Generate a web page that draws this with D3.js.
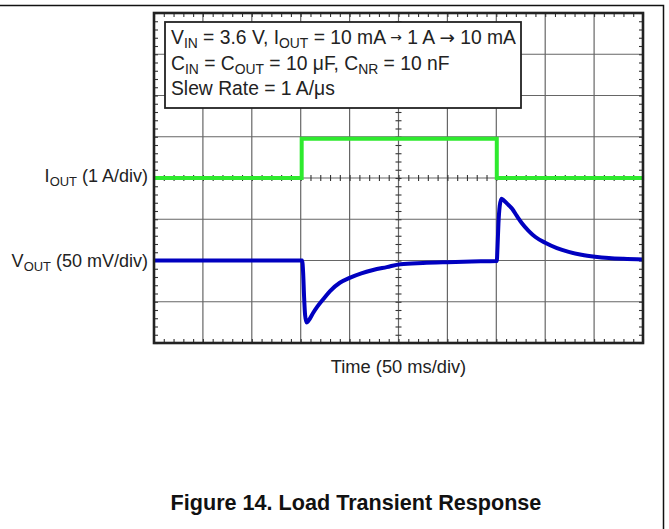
<!DOCTYPE html>
<html>
<head>
<meta charset="utf-8">
<script src="https://cdn.jsdelivr.net/npm/d3@7"></script>
<style>
  body { margin: 0; background: #fff; }
  text { font-family: "Liberation Sans", Arial, sans-serif; fill: #222; }
</style>
</head>
<body>
<script>
// step of the load current (time in ms, current in A)
const ioutTime = [0, 151, 151, 350.5, 350.5, 500];
const ioutAmps = [0, 0, 0.95, 0.95, 0, 0];

// output voltage deviation (time in ms, deviation in mV)
const voutTime = [0, 151.5, 152.5, 153.5, 154.5, 156, 158, 162.5, 167, 173, 180, 190, 200, 212, 224, 238, 252, 275, 300, 325,
                  350.5, 351.2, 352.2, 353.5, 355.3, 357.5, 361, 366, 371, 376, 383, 390, 400, 412, 424, 437, 451, 465, 480, 500];
const voutMv   = [0, 0, -15, -45, -66, -75, -73, -64, -56, -47, -37, -27, -21, -15.5, -11.5, -8, -4.5, -3, -2, -1.2,
                  -0.5, 15, 45, 66, 75, 73, 69, 63, 54, 45.5, 36, 28.5, 21.5, 15, 10.5, 7, 4.6, 3, 2, 1.2];

const msPerDiv = 50;
const ampsPerDiv = 1;
const mvPerDiv = 50;
const ioutZeroDiv = 4;   // div (from bottom) where I_OUT = 0
const voutZeroDiv = 2;   // div where V_OUT deviation = 0

const w = 669, h = 529;
const m = {top: 13, left: 154, right: 26, bottom: 186};
const plot_w = w - m.left - m.right;
const plot_h = h - m.top - m.bottom;

const svg = d3.select('body').append('svg')
    .attr('width', w)
    .attr('height', h);

// outer frame (top and right)
svg.append('path')
    .attr('d', `M0,5.5 H663.5 V${h}`)
    .attr('fill', 'none')
    .attr('stroke', '#111')
    .attr('stroke-width', 1.5);

const xDiv = d3.scaleLinear().domain([0, 10]).range([m.left, m.left + plot_w]);
const yDiv = d3.scaleLinear().domain([0, 8]).range([m.top + plot_h, m.top]);
const x = d3.scaleLinear().domain([0, 10 * msPerDiv]).range([m.left, m.left + plot_w]);

svg.append('rect')
    .attr('x', m.left).attr('y', m.top)
    .attr('width', plot_w).attr('height', plot_h)
    .attr('fill', '#fff');

// grid
const grid = svg.append('g').attr('stroke', '#666').attr('stroke-width', 1.2);
grid.selectAll('.vg').data(d3.range(1, 10)).enter().append('line')
    .attr('x1', d => xDiv(d)).attr('x2', d => xDiv(d))
    .attr('y1', yDiv(0)).attr('y2', yDiv(8));
grid.selectAll('.hg').data(d3.range(1, 8)).enter().append('line')
    .attr('x1', xDiv(0)).attr('x2', xDiv(10))
    .attr('y1', d => yDiv(d)).attr('y2', d => yDiv(d));

// minor ticks
const minorX = d3.range(0, 10.001, 0.2);
const minorY = d3.range(0, 8.001, 0.2);

function ticks(g) {
  g.select('.domain').remove();
  g.selectAll('line').attr('stroke', '#333').attr('stroke-width', 1.1);
}
svg.append('g').attr('transform', `translate(0,${m.top})`)
    .call(d3.axisBottom(xDiv).tickValues(minorX).tickSize(4).tickFormat('')).call(ticks);
svg.append('g').attr('transform', `translate(0,${m.top + plot_h})`)
    .call(d3.axisTop(xDiv).tickValues(minorX).tickSize(4).tickFormat('')).call(ticks);
svg.append('g').attr('transform', `translate(${m.left},0)`)
    .call(d3.axisRight(yDiv).tickValues(minorY).tickSize(4).tickFormat('')).call(ticks);
svg.append('g').attr('transform', `translate(${m.left + plot_w},0)`)
    .call(d3.axisLeft(yDiv).tickValues(minorY).tickSize(4).tickFormat('')).call(ticks);
// centre axes, ticks on both sides
svg.append('g').attr('transform', `translate(0,${yDiv(4)})`)
    .call(d3.axisBottom(xDiv).tickValues(minorX).tickSize(3).tickFormat('')).call(ticks);
svg.append('g').attr('transform', `translate(0,${yDiv(4)})`)
    .call(d3.axisTop(xDiv).tickValues(minorX).tickSize(3).tickFormat('')).call(ticks);
svg.append('g').attr('transform', `translate(${xDiv(5)},0)`)
    .call(d3.axisRight(yDiv).tickValues(minorY).tickSize(3).tickFormat('')).call(ticks);
svg.append('g').attr('transform', `translate(${xDiv(5)},0)`)
    .call(d3.axisLeft(yDiv).tickValues(minorY).tickSize(3).tickFormat('')).call(ticks);

// traces
const iLine = d3.line()
    .x(d => x(d[0]))
    .y(d => yDiv(ioutZeroDiv + d[1] / ampsPerDiv));
svg.append('path')
    .datum(d3.zip(ioutTime, ioutAmps))
    .attr('d', iLine)
    .attr('fill', 'none')
    .attr('stroke', '#2eea2e')
    .attr('stroke-width', 4);

const vLine = d3.line()
    .curve(d3.curveMonotoneX)
    .x(d => x(d[0]))
    .y(d => yDiv(voutZeroDiv + d[1] / mvPerDiv));
svg.append('path')
    .datum(d3.zip(voutTime, voutMv))
    .attr('d', vLine)
    .attr('fill', 'none')
    .attr('stroke', '#0000c0')
    .attr('stroke-width', 4)
    .attr('stroke-linejoin', 'round');

// plot border
svg.append('rect')
    .attr('x', m.left).attr('y', m.top)
    .attr('width', plot_w).attr('height', plot_h)
    .attr('fill', 'none')
    .attr('stroke', '#222')
    .attr('stroke-width', 2.6);

// annotation box
svg.append('rect')
    .attr('x', 165).attr('y', 22)
    .attr('width', 356).attr('height', 86)
    .attr('fill', '#fff')
    .attr('stroke', '#222')
    .attr('stroke-width', 1.8);

// text with subscripts: parts = [[text, 'sub'|'small'|'arrow'|null], ...]
function richText(sel, parts, size) {
  let shift = 0;
  parts.forEach(p => {
    const t = sel.append('tspan').text(p[0]);
    let target = 0;
    if (p[1] === 'sub') {
      t.attr('font-size', size * 0.72);
      target = 4;
    } else if (p[1] === 'small') {
      t.attr('font-size', size * 0.72).style('font-family', 'DejaVu Sans');
      target = -2;
    } else if (p[1] === 'arrow') {
      t.style('font-family', 'DejaVu Sans').attr('font-size', size * 0.95);
    }
    if (target - shift !== 0) t.attr('dy', target - shift);
    shift = target;
  });
}

const fs = 18;
const noteSize = 19.3;
const notes = [
  [['V'], ['IN', 'sub'], [' = 3.6 V, I'], ['OUT', 'sub'], [' = 10 mA '], ['\u2192', 'small'], [' 1 A '], ['\u2192', 'arrow'], [' 10 mA']],
  [['C'], ['IN', 'sub'], [' = C'], ['OUT', 'sub'], [' = 10 \u03bcF, C'], ['NR', 'sub'], [' = 10 nF']],
  [['Slew Rate = 1 A/\u03bcs']]
];
notes.forEach((parts, i) => {
  const t = svg.append('text')
      .attr('x', 171).attr('y', 44 + i * 25.5)
      .attr('font-size', noteSize);
  richText(t, parts, noteSize);
});

// channel labels
const iLab = svg.append('text')
    .attr('x', 148).attr('y', 182)
    .attr('text-anchor', 'end').attr('font-size', fs);
richText(iLab, [['I'], ['OUT', 'sub'], [' (1 A/div)']], fs);

const vLab = svg.append('text')
    .attr('x', 148).attr('y', 267)
    .attr('text-anchor', 'end').attr('font-size', fs);
richText(vLab, [['V'], ['OUT', 'sub'], [' (50 mV/div)']], fs);

svg.append('text')
    .attr('x', xDiv(5)).attr('y', 373)
    .attr('text-anchor', 'middle').attr('font-size', 18.3)
    .text('Time (50 ms/div)');

svg.append('text')
    .attr('x', 356).attr('y', 510)
    .attr('text-anchor', 'middle')
    .attr('font-size', 21.6)
    .attr('font-weight', 'bold')
    .style('fill', '#111')
    .text('Figure 14. Load Transient Response');
</script>
</body>
</html>
